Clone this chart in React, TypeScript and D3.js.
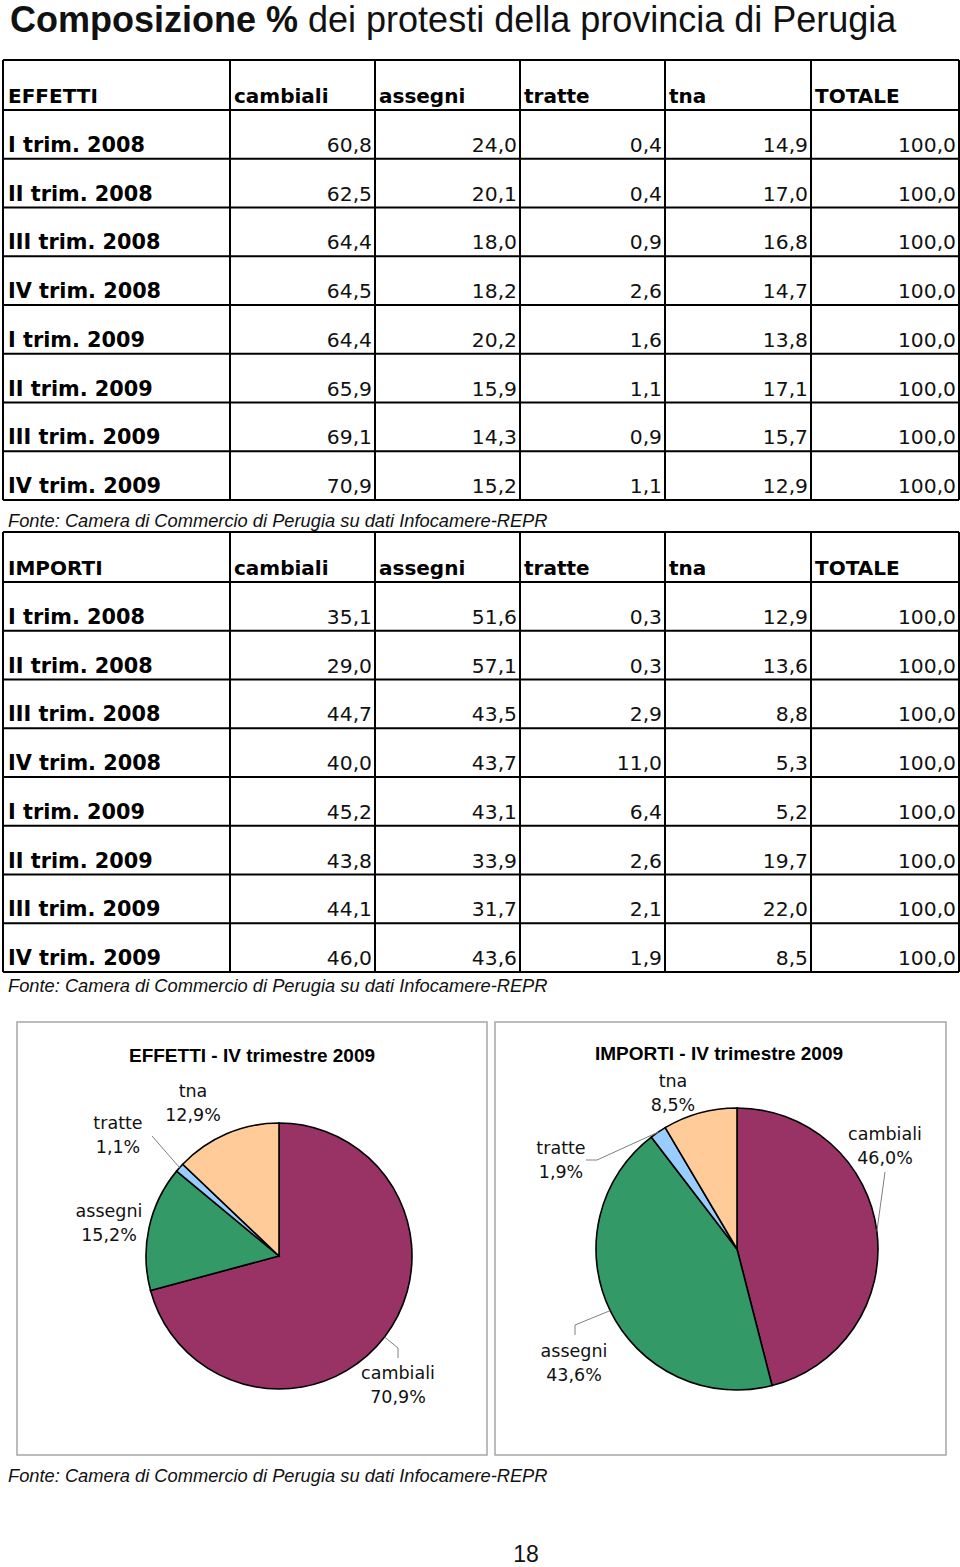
import React from "react";
import * as d3 from "d3";

const columns = ["cambiali", "assegni", "tratte", "tna", "TOTALE"];
const quarters = [
  "I trim. 2008",
  "II trim. 2008",
  "III trim. 2008",
  "IV trim. 2008",
  "I trim. 2009",
  "II trim. 2009",
  "III trim. 2009",
  "IV trim. 2009",
];

// composizione % per trimestre: cambiali, assegni, tratte, tna, totale
const effettiRows = [
  [60.8, 24.0, 0.4, 14.9, 100.0],
  [62.5, 20.1, 0.4, 17.0, 100.0],
  [64.4, 18.0, 0.9, 16.8, 100.0],
  [64.5, 18.2, 2.6, 14.7, 100.0],
  [64.4, 20.2, 1.6, 13.8, 100.0],
  [65.9, 15.9, 1.1, 17.1, 100.0],
  [69.1, 14.3, 0.9, 15.7, 100.0],
  [70.9, 15.2, 1.1, 12.9, 100.0],
];
const importiRows = [
  [35.1, 51.6, 0.3, 12.9, 100.0],
  [29.0, 57.1, 0.3, 13.6, 100.0],
  [44.7, 43.5, 2.9, 8.8, 100.0],
  [40.0, 43.7, 11.0, 5.3, 100.0],
  [45.2, 43.1, 6.4, 5.2, 100.0],
  [43.8, 33.9, 2.6, 19.7, 100.0],
  [44.1, 31.7, 2.1, 22.0, 100.0],
  [46.0, 43.6, 1.9, 8.5, 100.0],
];

const sliceNames = ["cambiali", "assegni", "tratte", "tna"];
const sliceColors = ["#993366", "#339966", "#99CCFF", "#FFCC99"];
const effettiPie = [70.9, 15.2, 1.1, 12.9];
const importiPie = [46.0, 43.6, 1.9, 8.5];

const fonte = "Fonte: Camera di Commercio di Perugia su dati Infocamere-REPR";
const verdana = "DejaVu Sans, Verdana, sans-serif";
const arial = "Liberation Sans, Arial, sans-serif";

const fmt = (v: number) => v.toFixed(1).replace(".", ",");

const colEdges = [3, 230, 375, 520, 665, 811, 959];

function Table({ title, rows, top }: { title: string; rows: number[][]; top: number }) {
  const headerBottom = top + 50;
  const y = d3.scaleBand<string>().domain(quarters).range([headerBottom, headerBottom + 390]);
  const bottom = headerBottom + 390;
  const hLines = [top, headerBottom, ...quarters.map((q) => (y(q) as number) + y.bandwidth())];
  return (
    <g>
      {hLines.map((hy, i) => (
        <line key={"h" + i} x1={colEdges[0]} x2={colEdges[6]} y1={hy} y2={hy} stroke="#000" strokeWidth={2} />
      ))}
      {colEdges.map((cx, i) => (
        <line key={"v" + i} x1={cx} x2={cx} y1={top} y2={bottom} stroke="#000" strokeWidth={2} />
      ))}
      <text x={colEdges[0] + 5} y={headerBottom - 7} fontFamily={verdana} fontWeight="bold" fontSize={20}>
        {title}
      </text>
      {columns.map((c, i) => (
        <text key={c} x={colEdges[i + 1] + 4} y={headerBottom - 7} fontFamily={verdana} fontWeight="bold" fontSize={20}>
          {c}
        </text>
      ))}
      {quarters.map((q, r) => {
        const by = (y(q) as number) + y.bandwidth() - 7;
        return (
          <g key={q}>
            <text x={colEdges[0] + 5} y={by} fontFamily={verdana} fontWeight="bold" fontSize={20.8}>
              {q}
            </text>
            {rows[r].map((v, i) => (
              <text key={i} x={colEdges[i + 2] - 3} y={by} textAnchor="end" fontFamily={verdana} fontSize={20.3} fill="#111">
                {fmt(v)}
              </text>
            ))}
          </g>
        );
      })}
    </g>
  );
}

type LabelSpec = { x: number; y: number; leader?: [number, number][] };

function PieChart({
  title,
  values,
  box,
  cx,
  cy,
  r,
  titleX,
  titleY,
  labels,
}: {
  title: string;
  values: number[];
  box: [number, number, number, number];
  cx: number;
  cy: number;
  r: number;
  titleX: number;
  titleY: number;
  labels: LabelSpec[];
}) {
  const arcs = d3.pie<number>().sort(null).value((d) => d)(values);
  const arc = d3.arc<d3.PieArcDatum<number>>().innerRadius(0).outerRadius(r);
  return (
    <g>
      <rect x={box[0]} y={box[1]} width={box[2] - box[0]} height={box[3] - box[1]} fill="#fff" stroke="#a6a6a6" strokeWidth={1.5} />
      <text x={titleX} y={titleY} textAnchor="middle" fontFamily={arial} fontWeight="bold" fontSize={19}>
        {title}
      </text>
      <g transform={`translate(${cx},${cy})`}>
        {arcs.map((a, i) => (
          <path key={i} d={arc(a) as string} fill={sliceColors[i]} stroke="#000" strokeWidth={1.6} />
        ))}
      </g>
      {arcs.map((a, i) => {
        const lab = labels[i];
        const mid = (a.startAngle + a.endAngle) / 2;
        const ax = cx + Math.sin(mid) * r;
        const ay = cy - Math.cos(mid) * r;
        return (
          <g key={"l" + i}>
            {lab.leader && (
              <polyline
                points={[[ax, ay], ...lab.leader].map((p) => p.join(",")).join(" ")}
                fill="none"
                stroke="#808080"
                strokeWidth={1}
              />
            )}
            <text x={lab.x} y={lab.y} textAnchor="middle" fontFamily={verdana} fontSize={17.5} fill="#111">
              <tspan x={lab.x} dy={0}>
                {sliceNames[i]}
              </tspan>
              <tspan x={lab.x} dy={24}>
                {fmt(values[i]) + "%"}
              </tspan>
            </text>
          </g>
        );
      })}
    </g>
  );
}

export default function App() {
  return (
    <svg
      width={960}
      height={1567}
      style={{ position: "absolute", left: 0, top: 0, background: "#fff" }}
    >
      <rect width={960} height={1567} fill="#fff" />
      <text x={10} y={32} fontFamily={arial} fontSize={36} fill="#111">
        <tspan fontWeight="bold">Composizione %</tspan>
        <tspan> dei protesti della provincia di Perugia</tspan>
      </text>

      <Table title="EFFETTI" rows={effettiRows} top={60} />
      <text x={8} y={527} fontFamily={arial} fontStyle="italic" fontSize={18.3} fill="#111">
        {fonte}
      </text>

      <Table title="IMPORTI" rows={importiRows} top={532} />
      <text x={8} y={992} fontFamily={arial} fontStyle="italic" fontSize={18.3} fill="#111">
        {fonte}
      </text>

      <PieChart
        title="EFFETTI - IV trimestre 2009"
        values={effettiPie}
        box={[17, 1022, 487, 1455]}
        cx={279}
        cy={1256}
        r={133}
        titleX={252}
        titleY={1062}
        labels={[
          { x: 398, y: 1379, leader: [[398, 1348], [398, 1358]] },
          { x: 109, y: 1217 },
          { x: 118, y: 1129, leader: [[152, 1136]] },
          { x: 193, y: 1097 },
        ]}
      />
      <PieChart
        title="IMPORTI - IV trimestre 2009"
        values={importiPie}
        box={[495, 1022, 946, 1455]}
        cx={737}
        cy={1249}
        r={141}
        titleX={719}
        titleY={1060}
        labels={[
          { x: 885, y: 1140, leader: [[885, 1172]] },
          { x: 574, y: 1357, leader: [[575, 1325], [575, 1335]] },
          { x: 561, y: 1154, leader: [[597, 1160], [586, 1160]] },
          { x: 673, y: 1087 },
        ]}
      />
      <text x={8} y={1482} fontFamily={arial} fontStyle="italic" fontSize={18.3} fill="#111">
        {fonte}
      </text>

      <text x={526} y={1562} textAnchor="middle" fontFamily={arial} fontSize={23} fill="#111">
        18
      </text>
    </svg>
  );
}
